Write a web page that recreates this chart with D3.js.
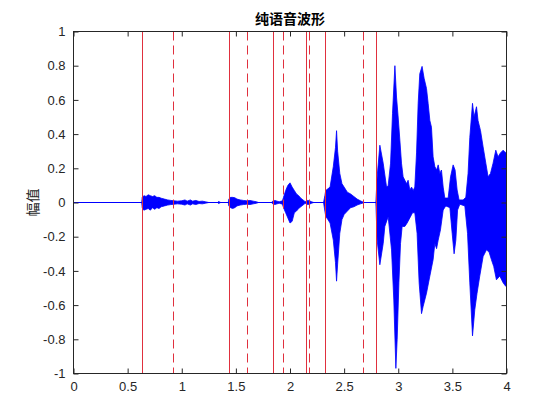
<!DOCTYPE html>
<html><head><meta charset="utf-8">
<script src="https://cdn.jsdelivr.net/npm/d3@7/dist/d3.min.js"></script>
<style>html,body{margin:0;padding:0;background:#fff;}</style>
</head><body><svg id="c" width="560" height="420"></svg>
<script>
const titleText = "纯语音波形";
const yLabelText = "幅值";
const xTicks = [0, 0.5, 1, 1.5, 2, 2.5, 3, 3.5, 4];
const xTickLabels = ["0","0.5","1","1.5","2","2.5","3","3.5","4"];
const yTicks = [-1,-0.8,-0.6,-0.4,-0.2,0,0.2,0.4,0.6,0.8,1];
const yTickLabels = ["-1","-0.8","-0.6","-0.4","-0.2","0","0.2","0.4","0.6","0.8","1"];
// endpoint markers (s)
const startLines = [0.63, 1.433, 1.845, 2.144, 2.322, 2.793];
const endLines = [0.92, 1.605, 1.932, 2.177, 2.673, 4.0];
// waveform upper envelope [t, amplitude]
const envTop = [[0,0],[0.62,0],[0.630,0],[0.635,0.03],[0.65,0.04],[0.67,0.035],[0.69,0.045],[0.71,0.04],[0.73,0.035],[0.75,0.04],[0.77,0.03],[0.79,0.03],[0.81,0.025],[0.84,0.02],[0.87,0.015],[0.90,0.012],[0.93,0.01],[0.96,0.008],[1.00,0.01],[1.03,0.015],[1.05,0.008],[1.08,0.015],[1.10,0.008],[1.13,0.012],[1.16,0.006],[1.19,0.008],[1.22,0.004],[1.25,0],[1.33,0],[1.34,0.006],[1.36,0],[1.43,0],[1.435,0.02],[1.45,0.03],[1.47,0.03],[1.49,0.028],[1.51,0.02],[1.54,0.015],[1.57,0.012],[1.60,0.01],[1.63,0.012],[1.66,0.008],[1.69,0.004],[1.71,0],[1.83,0],[1.84,0.008],[1.86,0.012],[1.88,0.008],[1.90,0.004],[1.93,0.01],[1.94,0.03],[1.96,0.07],[1.98,0.10],[2.00,0.115],[2.02,0.09],[2.04,0.07],[2.06,0.05],[2.08,0.04],[2.10,0.025],[2.12,0.015],[2.14,0.005],[2.16,0.012],[2.18,0.01],[2.20,0.004],[2.22,0],[2.31,0],[2.322,0.04],[2.33,0.07],[2.35,0.08],[2.37,0.09],[2.40,0.21],[2.42,0.32],[2.43,0.42],[2.44,0.30],[2.46,0.17],[2.48,0.11],[2.50,0.09],[2.53,0.06],[2.56,0.05],[2.59,0.035],[2.62,0.02],[2.65,0.01],[2.67,0.004],[2.69,0],[2.793,0],[2.805,0.15],[2.830,0.335],[2.861,0.23],[2.892,0.09],[2.907,0.10],[2.929,0.23],[2.947,0.52],[2.969,0.80],[2.984,0.617],[2.999,0.50],[3.015,0.364],[3.030,0.23],[3.045,0.15],[3.061,0.13],[3.077,0.11],[3.091,0.13],[3.107,0.073],[3.123,0.09],[3.138,0.07],[3.153,0.09],[3.169,0.29],[3.184,0.58],[3.199,0.753],[3.220,0.796],[3.239,0.726],[3.261,0.667],[3.276,0.58],[3.292,0.48],[3.307,0.44],[3.322,0.267],[3.338,0.21],[3.354,0.19],[3.369,0.22],[3.384,0.17],[3.399,0.19],[3.415,0.09],[3.430,0.026],[3.461,0.026],[3.483,0.15],[3.507,0.22],[3.525,0.19],[3.544,0.073],[3.562,0.015],[3.599,0.015],[3.624,0.03],[3.645,0.17],[3.661,0.38],[3.686,0.58],[3.700,0.50],[3.723,0.56],[3.737,0.48],[3.760,0.42],[3.784,0.325],[3.809,0.23],[3.830,0.15],[3.852,0.17],[3.876,0.23],[3.901,0.306],[3.922,0.267],[3.944,0.29],[3.969,0.306],[3.993,0.29],[4.0,0.30]];
// waveform lower envelope [t, amplitude]
const envBot = [[0,0],[0.630,0],[0.635,-0.03],[0.65,-0.045],[0.67,-0.04],[0.69,-0.035],[0.71,-0.045],[0.73,-0.03],[0.75,-0.04],[0.77,-0.03],[0.79,-0.035],[0.81,-0.025],[0.84,-0.02],[0.87,-0.015],[0.90,-0.012],[0.93,-0.01],[0.96,-0.008],[1.00,-0.01],[1.03,-0.015],[1.05,-0.008],[1.08,-0.015],[1.10,-0.008],[1.13,-0.012],[1.16,-0.006],[1.19,-0.008],[1.22,-0.004],[1.25,0],[1.33,0],[1.34,-0.006],[1.36,0],[1.43,0],[1.435,-0.02],[1.45,-0.03],[1.47,-0.035],[1.49,-0.03],[1.51,-0.02],[1.54,-0.015],[1.57,-0.012],[1.60,-0.01],[1.63,-0.012],[1.66,-0.008],[1.69,-0.004],[1.71,0],[1.83,0],[1.84,-0.008],[1.86,-0.012],[1.88,-0.008],[1.90,-0.004],[1.93,-0.01],[1.94,-0.03],[1.96,-0.06],[1.98,-0.09],[2.00,-0.12],[2.02,-0.11],[2.04,-0.06],[2.06,-0.05],[2.08,-0.035],[2.10,-0.025],[2.12,-0.015],[2.14,-0.005],[2.16,-0.012],[2.18,-0.01],[2.20,-0.004],[2.22,0],[2.31,0],[2.322,-0.05],[2.33,-0.08],[2.35,-0.10],[2.37,-0.12],[2.40,-0.22],[2.42,-0.35],[2.43,-0.46],[2.44,-0.36],[2.46,-0.18],[2.48,-0.10],[2.50,-0.07],[2.53,-0.05],[2.56,-0.03],[2.59,-0.025],[2.62,-0.015],[2.65,-0.008],[2.67,-0.004],[2.69,0],[2.793,0],[2.805,-0.22],[2.830,-0.364],[2.861,-0.24],[2.876,-0.14],[2.907,-0.083],[2.938,-0.277],[2.959,-0.57],[2.978,-0.97],[2.990,-0.80],[3.006,-0.47],[3.021,-0.24],[3.036,-0.14],[3.061,-0.14],[3.082,-0.12],[3.107,-0.09],[3.132,-0.06],[3.153,-0.06],[3.174,-0.18],[3.193,-0.47],[3.215,-0.65],[3.229,-0.61],[3.261,-0.53],[3.292,-0.43],[3.322,-0.335],[3.338,-0.24],[3.354,-0.27],[3.369,-0.22],[3.390,-0.16],[3.415,-0.044],[3.439,-0.02],[3.477,-0.03],[3.498,-0.18],[3.516,-0.30],[3.532,-0.22],[3.548,-0.044],[3.569,-0.01],[3.615,-0.02],[3.640,-0.18],[3.661,-0.47],[3.686,-0.78],[3.707,-0.627],[3.728,-0.53],[3.753,-0.43],[3.784,-0.316],[3.815,-0.277],[3.839,-0.29],[3.861,-0.335],[3.882,-0.374],[3.907,-0.452],[3.938,-0.43],[3.969,-0.47],[3.993,-0.49],[4.0,-0.48]];

const L = 73.5, R = 506.5, T = 31.5, B = 373.5;
const svg = d3.select("#c");
const x = d3.scaleLinear().domain([0, 4]).range([L, R]);
const y = d3.scaleLinear().domain([-1, 1]).range([B, T]);
const font = "'Liberation Sans', Arial, sans-serif";
const textCol = "#262626";

// waveform
const line = d3.line().x(d => x(d[0])).y(d => y(d[1]));
const poly = envTop.concat(envBot.slice().reverse());
svg.append("line").attr("x1", x(0)).attr("x2", x(4)).attr("y1", y(0)).attr("y2", y(0))
  .attr("stroke", "#0000ff").attr("stroke-width", 1);
svg.append("path").attr("d", line(poly) + "Z")
  .attr("fill", "#0000ff").attr("stroke", "#0000ff").attr("stroke-width", 0.8).attr("stroke-linejoin", "round");

// marker lines
const lineCol = "#e0303e";
svg.append("g").selectAll("line").data(startLines).join("line")
  .attr("x1", d => Math.round(x(d)) + 0.5).attr("x2", d => Math.round(x(d)) + 0.5)
  .attr("y1", T).attr("y2", B).attr("stroke", lineCol).attr("stroke-width", 1);
svg.append("g").selectAll("line").data(endLines).join("line")
  .attr("x1", d => Math.min(Math.round(x(d)) + 0.5, R)).attr("x2", d => Math.min(Math.round(x(d)) + 0.5, R))
  .attr("y1", T).attr("y2", B).attr("stroke", lineCol).attr("stroke-width", 1)
  .attr("stroke-dasharray", "9,5");

// axes
function styleAxis(g) {
  g.select(".domain").remove();
  g.selectAll(".tick line").attr("stroke", textCol);
  g.selectAll(".tick text").attr("fill", textCol).style("font-family", font).style("font-size", "13px");
}
svg.append("g").attr("transform", `translate(0,${B})`)
  .call(d3.axisBottom(x).tickValues(xTicks).tickFormat((d, i) => xTickLabels[i]).tickSizeInner(-5).tickSizeOuter(0).tickPadding(8))
  .call(styleAxis);
svg.append("g").attr("transform", `translate(0,${T})`)
  .call(d3.axisTop(x).tickValues(xTicks).tickFormat("").tickSizeInner(-5).tickSizeOuter(0))
  .call(styleAxis);
svg.append("g").attr("transform", `translate(${L},0)`)
  .call(d3.axisLeft(y).tickValues(yTicks).tickFormat((d, i) => yTickLabels[i]).tickSizeInner(-5).tickSizeOuter(0).tickPadding(8))
  .call(styleAxis);
svg.append("g").attr("transform", `translate(${R},0)`)
  .call(d3.axisRight(y).tickValues(yTicks).tickFormat("").tickSizeInner(-5).tickSizeOuter(0))
  .call(styleAxis);

svg.append("rect").attr("x", L).attr("y", T).attr("width", R - L).attr("height", B - T)
  .attr("fill", "none").attr("stroke", textCol).attr("stroke-width", 1);

// title and label
svg.append("text").attr("x", (L + R) / 2).attr("y", 24).attr("text-anchor", "middle")
  .style("font-family", "'Noto Sans CJK SC', sans-serif").style("font-size", "14px").style("font-weight", "bold")
  .attr("fill", "#000").text(titleText);
svg.append("text").attr("transform", `translate(38,${y(0)}) rotate(-90)`).attr("text-anchor", "middle")
  .style("font-family", "'Noto Sans CJK SC', sans-serif").style("font-size", "14px")
  .attr("fill", textCol).text(yLabelText);
</script></body></html>
